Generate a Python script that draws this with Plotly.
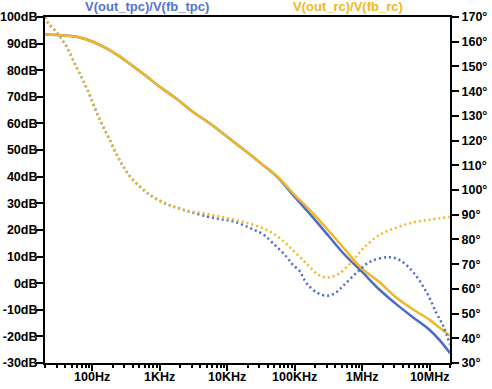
import plotly.graph_objects as go

# ---- data ----
mag_freq = [20, 40, 63, 100, 158, 251, 398, 631, 1000, 1778, 3162, 5623, 10000,
            17783, 31623, 56234, 100000, 177828, 316228, 562341, 1000000,
            1778279, 3162278, 5623413, 10000000, 14125375, 20000000]
mag_rc_db = [93.4, 93.0, 92.4, 90.8, 88.4, 85.3, 81.6, 77.8, 73.8, 69.3, 64.2, 59.9, 55.0,
             50.1, 45.0, 39.9, 33.2, 26.8, 19.8, 12.5, 5.4,
             0.5, -5.3, -9.8, -13.8, -16.8, -19.8]
mag_tpc_db = [93.4, 93.0, 92.4, 90.8, 88.4, 85.3, 81.6, 77.8, 73.8, 69.3, 64.2, 59.9, 55.0,
              50.1, 45.0, 39.7, 32.4, 25.3, 17.8, 10.4, 4.2,
              -2.3, -7.8, -12.8, -17.6, -21.5, -26.3]

ph_rc_freq = [20, 22.4, 28.2, 35.5, 44.7, 56.2, 70.8, 89.1, 112, 141, 178, 224, 282, 363,
              537, 794, 1349, 2512, 5012, 10000, 19953, 38019, 60256, 95499, 151356,
              223872, 316228, 467735, 707946, 1047129, 1819701, 3235937, 5754399,
              10000000, 20000000]
ph_rc_deg = [170, 167.5, 164.5, 161.0, 156.5, 150.7, 145.2, 139.3, 132.5, 126.4, 120.8, 115.0,
             110.0, 105.5, 100.8, 97.2, 94.0, 91.6, 90.3, 88.6, 86.6, 83.9, 80.5, 75.5, 70.1,
             65.7, 64.6, 66.4, 71.1, 76.5, 81.9, 84.8, 86.9, 88.0, 89.1]

ph_tpc_freq = [20, 22.4, 28.2, 35.5, 44.7, 56.2, 70.8, 89.1, 112, 141, 178, 224, 282, 363,
               537, 794, 1349, 2512, 5012, 7943, 12303, 21878, 34674, 53703, 75858, 91201,
               120226, 134896, 158489, 213796, 301995, 398107, 524807, 831764, 1318257,
               2454709, 3630781, 5754399, 9120108, 12589254, 15848932, 20000000]
ph_tpc_deg = [170, 167.5, 164.5, 161.0, 156.5, 150.7, 145.2, 139.3, 132.5, 126.4, 120.8, 115.0,
              110.0, 105.5, 100.8, 97.2, 94.0, 91.6, 89.3, 88.2, 87.3, 84.6, 81.9, 77.1, 73.0,
              70.1, 67.0, 64.3, 61.5, 58.5, 57.2, 58.3, 61.3, 66.6, 71.0, 72.8, 71.6, 66.6,
              58.3, 50.2, 45.0, 37.5]

x_tickvals = [100, 1000, 10000, 100000, 1000000, 10000000]
x_ticktext = ["100Hz", "1KHz", "10KHz", "100KHz", "1MHz", "10MHz"]
y_tickvals = [-30, -20, -10, 0, 10, 20, 30, 40, 50, 60, 70, 80, 90, 100]
y_ticktext = ["-30dB", "-20dB", "-10dB", "0dB", "10dB", "20dB", "30dB", "40dB", "50dB",
              "60dB", "70dB", "80dB", "90dB", "100dB"]
minor_vals = [m * 10 ** e for e in range(1, 8) for m in range(2, 10) if 20 <= m * 10 ** e <= 2e7]

BLUE = "#4a6cc6"
ORANGE = "#f0b826"
FONT = dict(family="Liberation Sans, Arial, sans-serif", size=12.5, color="black", weight=700)

fig = go.Figure()
fig.add_trace(go.Scatter(x=ph_tpc_freq, y=ph_tpc_deg, yaxis="y2", mode="lines",
                         line=dict(color=BLUE, width=2.5, dash="2px,3px", shape="spline"),
                         showlegend=False))
fig.add_trace(go.Scatter(x=ph_rc_freq, y=ph_rc_deg, yaxis="y2", mode="lines",
                         line=dict(color=ORANGE, width=2.5, dash="2px,3px", shape="spline"),
                         showlegend=False))
fig.add_trace(go.Scatter(x=mag_freq, y=mag_tpc_db, mode="lines",
                         line=dict(color=BLUE, width=2.5, shape="spline"), showlegend=False))
fig.add_trace(go.Scatter(x=mag_freq, y=mag_rc_db, mode="lines",
                         line=dict(color=ORANGE, width=2.5, shape="spline"), showlegend=False))

fig.update_layout(
    width=492, height=389,
    margin=dict(l=45, r=42, t=17, b=26, autoexpand=False),
    paper_bgcolor="white", plot_bgcolor="white",
    font=FONT,
    xaxis=dict(type="log", range=[1.30103, 7.30103], showgrid=False, zeroline=False,
               automargin=False,
               showline=True, linecolor="black", linewidth=2, mirror=True,
               tickmode="array", tickvals=x_tickvals, ticktext=x_ticktext,
               ticks="outside", ticklen=6, tickwidth=2, tickcolor="black",
               ticklabelstandoff=-5,
               minor=dict(tickmode="array", tickvals=minor_vals, ticks="outside",
                          ticklen=3, tickwidth=2, tickcolor="black", showgrid=False),
               tickfont=FONT),
    yaxis=dict(range=[-30, 100], tickmode="array", tickvals=y_tickvals, ticktext=y_ticktext,
               showgrid=False, automargin=False,
               zeroline=False, showline=True, linecolor="black", linewidth=2,
               ticks="outside", ticklen=7, tickwidth=2, tickcolor="black", tickfont=FONT,
               ticklabelstandoff=-4),
    yaxis2=dict(range=[30, 170], dtick=10, tick0=0, ticksuffix="°", overlaying="y",
                automargin=False,
                side="right", showgrid=False, zeroline=False, showline=True,
                linecolor="black", linewidth=2, ticks="outside", ticklen=7, tickwidth=2,
                tickcolor="black", tickfont=FONT),
    annotations=[
        dict(text="V(out_tpc)/V(fb_tpc)", x=0.251, y=1.029, xref="paper", yref="paper",
             xanchor="center", yanchor="middle", showarrow=False,
             font=dict(family=FONT["family"], size=13, color="#5675cc", weight=700)),
        dict(text="V(out_rc)/V(fb_rc)", x=0.748, y=1.029, xref="paper", yref="paper",
             xanchor="center", yanchor="middle", showarrow=False,
             font=dict(family=FONT["family"], size=13, color=ORANGE, weight=700)),
    ],
)

fig.write_html("out.html", config={"displayModeBar": False},
               post_script="document.body.style.margin='0';document.body.style.overflow='hidden';")
